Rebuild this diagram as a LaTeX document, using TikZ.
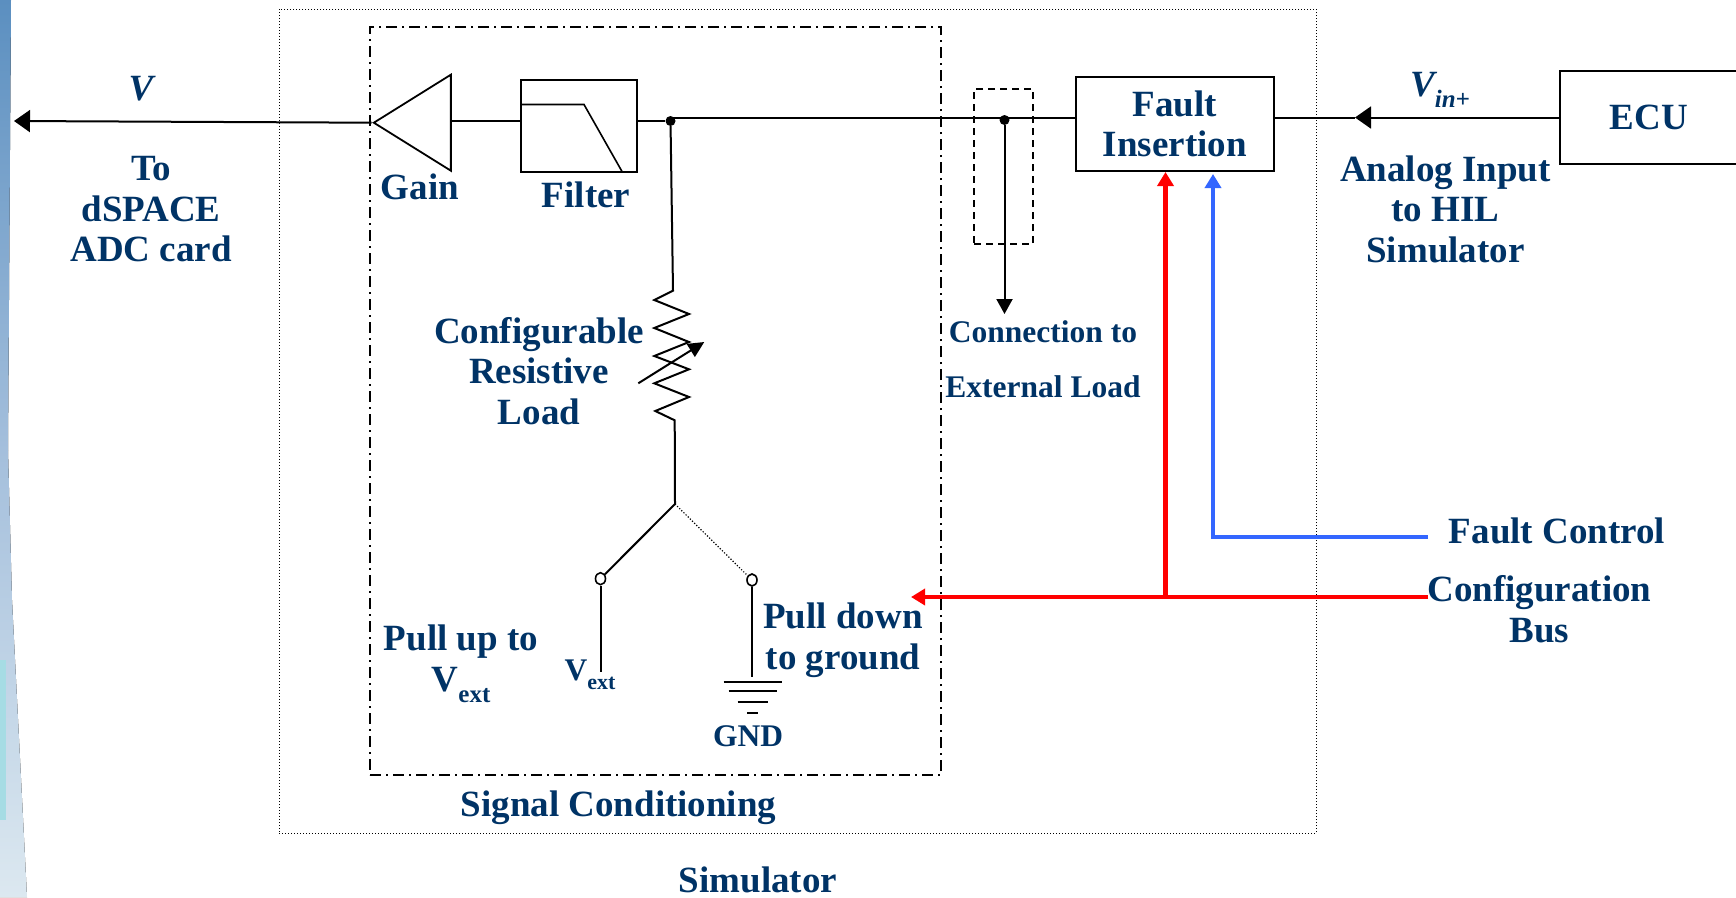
\documentclass[tikz,border=0pt]{standalone}
\usepackage{fontspec}
\setmainfont{Liberation Serif}
\usetikzlibrary{shapes.geometric,arrows.meta,positioning}
\definecolor{navytext}{HTML}{003366}
\definecolor{busred}{HTML}{FF0000}
\definecolor{ctrlblue}{HTML}{3366FF}
\definecolor{stripa}{HTML}{5B8FC0}
\definecolor{stripb}{HTML}{A4BFDC}
\definecolor{stripc}{HTML}{DCE8F0}
\definecolor{stripd}{HTML}{A6DCE4}
\newcommand{\lowtext}[1]{\raisebox{-0.3em}{\fontsize{25}{25}\selectfont #1}}

\begin{document}
\begin{tikzpicture}[x=1pt, y=-1pt,
	lbl/.style={font=\bfseries\fontsize{37}{40.5}\selectfont, text=navytext, align=center, inner sep=0pt},
	smalllbl/.style={font=\bfseries\fontsize{31.5}{55}\selectfont, text=navytext, align=center, inner sep=0pt},
	block/.style={draw, line width=2pt, inner sep=0pt},
	wire/.style={line width=2pt},
	tip/.style={-{Triangle[length=16pt,width=22pt]}},
	thicktip/.style={-{Triangle[length=14pt,width=16pt]}, line width=4.5pt},
	dot/.style={circle, fill=black, inner sep=0pt, minimum size=10pt},
	term/.style={ellipse, draw, line width=1.6pt, inner sep=0pt, minimum width=10pt, minimum height=12pt}]
	\useasboundingbox (0,0) rectangle (1736,897);
	\fill[top color=stripa, bottom color=stripb] (0,0) -- (11,0) -- (8,450) -- (0,450) -- cycle;
	\fill[top color=stripb, bottom color=stripc] (0,450) -- (8,450) -- (12,600) -- (27,897) -- (0,897) -- cycle;
	\fill[stripd] (0,660) -- (6,660) -- (6,820) -- (0,820) -- cycle;

	\node (simbox) [draw, line width=1pt, dash pattern=on 1.2pt off 1.8pt, minimum width=1037pt, minimum height=824pt] at (797.5,421) {};
	\node (condbox) [draw, line width=1.4pt, dash pattern=on 11pt off 5pt on 2pt off 5pt, minimum width=571pt, minimum height=748pt] at (655.5,401) {};
	\node (tapbox) [draw, line width=1.4pt, dash pattern=on 7pt off 5pt, minimum width=59pt, minimum height=155pt] at (1003.5,166.5) {};

	\node (gain) [draw, line width=1.8pt, isosceles triangle, isosceles triangle stretches, shape border rotate=180, inner sep=0pt, minimum width=96pt, minimum height=77pt, anchor=apex] at (371.5,122.7) {};
	\node (filter) [block, minimum width=116pt, minimum height=91.5pt] at (579,125.75) {};
	\node (fault) [block, lbl, minimum width=198.5pt, minimum height=94pt] at (1174.75,124) {Fault\\Insertion};
	\node (ecu) [block, lbl, minimum width=178pt, minimum height=93pt] at (1649,117.5) {ECU};

	\node (vout) [lbl, font=\bfseries\itshape\fontsize{37}{40.5}\selectfont] at (141,89) {V};
	\node (dspace) [lbl] at (151,209.5) {To\\dSPACE\\ADC card};
	\node (gainlbl) [lbl] at (420,187) {Gain};
	\node (filterlbl) [lbl] at (586,195) {Filter};
	\node (loadlbl) [lbl] at (539,371) {Configurable\\Resistive\\Load};
	\node (pulluplbl) [lbl] at (461,664) {Pull up to\\V\lowtext{ext}};
	\node (vextlbl) [lbl, font=\bfseries\fontsize{31.5}{40}\selectfont] at (590,675) {V\lowtext{\fontsize{22}{22}\selectfont ext}};
	\node (pulldownlbl) [lbl] at (843,640) {Pull down\\to ground};
	\node (gndlbl) [smalllbl] at (748,736) {GND};
	\node (condlbl) [lbl] at (618.5,808) {Signal Conditioning};
	\node (simlbl) [lbl] at (758,880) {Simulator};
	\node (extlbl) [smalllbl] at (1043,359) {Connection to\\External Load};
	\node (vin) [lbl, font=\bfseries\itshape\fontsize{37}{40.5}\selectfont] at (1440,90) {V\lowtext{in+}};
	\node (analog) [lbl] at (1445.5,209) {Analog Input\\to HIL\\Simulator};
	\node (ctrllbl) [lbl] at (1557,531) {Fault Control};
	\node (buslbl) [lbl] at (1539.5,609) {Configuration\\Bus};

	\node (tapload) [dot] at (670.5,121) {};
	\node (tapext) [dot] at (1004.5,120) {};
	\node (upterm) [term] at (600.5,578.7) {};
	\node (downterm) [term] at (752,580) {};
	\coordinate (outend) at (14,121);
	\coordinate (filterin) at (521,121);
	\coordinate (extend) at (1004.5,314);
	\coordinate (fork) at (675,504);
	\coordinate (vextend) at (600.5,672);
	\coordinate (gndtop) at (752,677);
	\coordinate (mainmid) at (1355,117.5);
	\coordinate (busend) at (1428,597);
	\coordinate (busfork) at (1165.5,597);
	\coordinate (busleft) at (911,597);
	\coordinate (ctrlend) at (1428,537);
	\coordinate (ctrlup) at (1213,537);

	\draw[wire,tip] (gain.apex) -- (outend);
	\draw[wire] (gain.east |- filterin) -- (filterin);
	\draw[wire] (filter.east |- tapload) -- (tapload);
	\draw[wire] (tapload |- ecu.west) -- (fault.west |- ecu.west);
	\draw[wire,tip] (ecu.west) -- (mainmid);
	\draw[wire] (mainmid) -- (fault.east |- ecu.west);
	\draw[wire,-{Triangle[length=15pt,width=16pt]}] (tapext) -- (extend);
	\draw[line width=1.6pt] (filter.west |- 0,104.5) -- (584,104.5) -- (622,171.5);

	\draw[wire] (tapload) -- (673,290.7) -- (654.3,300) -- (689,314) -- (654.3,328) -- (689,342) -- (654.3,356) -- (689,369.3) -- (654.3,383.3) -- (689,397) -- (655.3,411) -- (674.7,420.3) -- (fork);
	\draw[wire,-{Triangle[length=16pt,width=15pt]}] (638.3,383.3) -- (704.3,342);

	\draw[wire] (fork) -- (upterm);
	\draw[line width=1.2pt, dash pattern=on 1.2pt off 1.8pt] (fork) -- (downterm);
	\draw[wire] (upterm) -- (vextend);
	\draw[wire] (downterm) -- (gndtop);
	\foreach \ypos/\half in {681.7/29, 690.7/24, 701.7/15, 712.7/5.5}
		\draw[line width=2pt] ({752.5-\half},\ypos) -- ({752.5+\half},\ypos);

	\draw[thicktip,busred] (busend) -- (busleft);
	\draw[thicktip,busred] (busfork) -- (busfork |- fault.south);
	\draw[thicktip,ctrlblue] (ctrlend) -- (ctrlup) -- (ctrlup |- 0,174);
\end{tikzpicture}
\end{document}
